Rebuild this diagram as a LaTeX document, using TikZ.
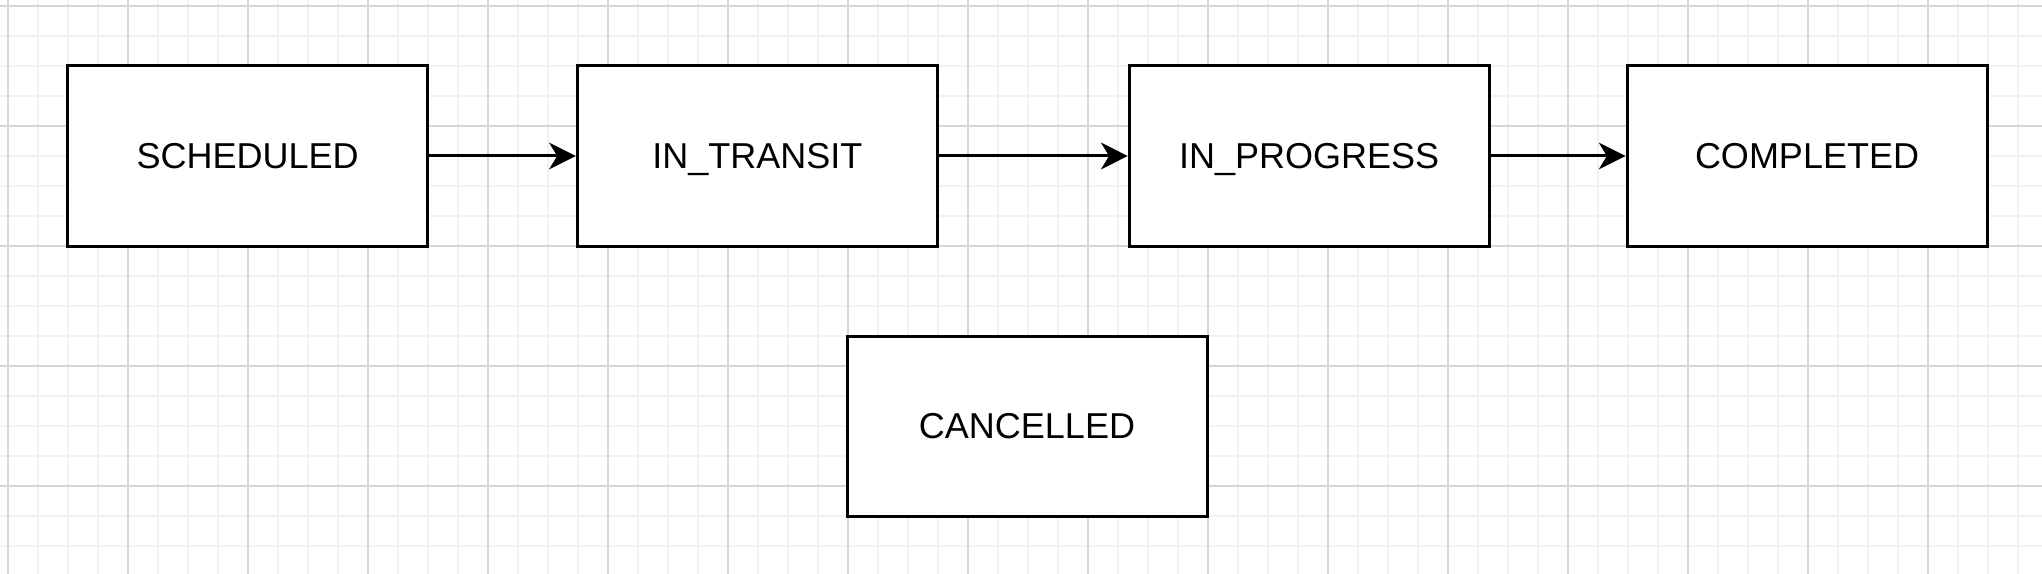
\documentclass[tikz,border=0pt]{standalone}
\usepackage{fontspec}
\setmainfont{Liberation Sans}
\usetikzlibrary{arrows.meta}

\definecolor{gridminor}{RGB}{242,242,242}
\definecolor{gridmajor}{RGB}{214,214,214}

\tikzset{every picture/.style={line width=0.75pt}}
\tikzset{
  statebox/.style={draw=black, fill=white, line width=2.25pt, minimum width=270pt, minimum height=135pt, inner sep=0pt, text height=19.3pt, text depth=0pt, font=\fontsize{27}{32}\selectfont},
  statearrow/.style={line width=2.25pt, -{Stealth[length=20pt, width=20pt, inset=6pt]}},
  minorline/.style={draw=gridminor, line width=1.2pt},
  majorline/.style={draw=gridmajor, line width=1.2pt}
}

\begin{document}
\begin{tikzpicture}[x=0.75pt,y=0.75pt,yscale=-1,xscale=1]
            \useasboundingbox (0,0) rectangle (2042,574);
            \fill[white] (0,0) rectangle (2042,574);

            %Grid: minor lines
            \foreach \i in {0,...,68} {
              \draw[minorline] ({7.7+30*\i},0) -- ({7.7+30*\i},574);
            }
            \foreach \i in {0,...,19} {
              \draw[minorline] (0,{6+30*\i}) -- (2042,{6+30*\i});
            }
            %Grid: major lines
            \foreach \i in {0,...,17} {
              \draw[majorline] ({7.7+120*\i},0) -- ({7.7+120*\i},574);
            }
            \foreach \i in {0,...,4} {
              \draw[majorline] (0,{6+120*\i}) -- (2042,{6+120*\i});
            }

            %Shape: Rectangle [scheduled]
            \node[statebox] (scheduled) at (247.7,156) {SCHEDULED};
            %Shape: Rectangle [in transit]
            \node[statebox] (intransit) at (757.3,156) {IN\_TRANSIT};
            %Shape: Rectangle [in progress]
            \node[statebox] (inprogress) at (1309.2,156) {IN\_PROGRESS};
            %Shape: Rectangle [completed]
            \node[statebox] (completed) at (1807,156) {COMPLETED};
            %Shape: Rectangle [cancelled]
            \node[statebox] (cancelled) at (1027,426) {CANCELLED};

            %Straight Lines
            \draw[statearrow] (scheduled) -- (intransit);
            %Straight Lines
            \draw[statearrow] (intransit) -- (inprogress);
            %Straight Lines
            \draw[statearrow] (inprogress) -- (completed);

\end{tikzpicture}
\end{document}
